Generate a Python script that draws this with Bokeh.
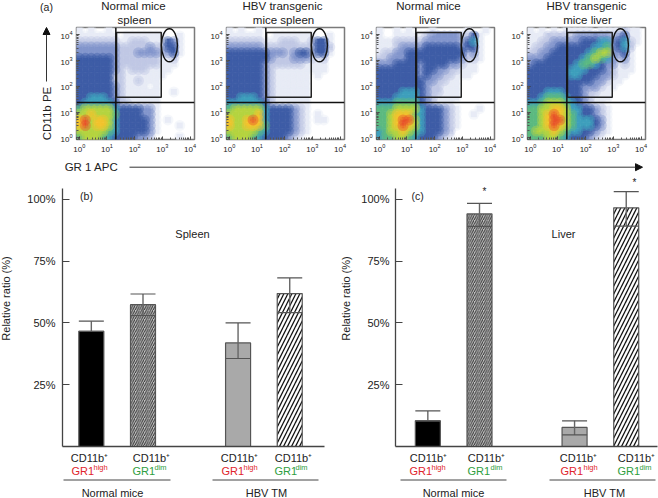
from bokeh.plotting import figure
from bokeh.layouts import column, row
from bokeh.models import Label, Span, Arrow, NormalHead, FixedTicker, Range1d, ColumnDataSource
from bokeh.embed import file_html
from bokeh.resources import INLINE

# ---- data: density grades (top row first, 0 = empty ... 9 = densest)
normal_spleen = [
"10100100000000000000","11111110111111100100","22222221122211143100","33333332222232244100",
"33333332223333234100","44444432222222112000","44444432222222111000","44444432122211110000",
"44444422111111100000","44444422112111000000","44444432111101000000","44444432111111001000",
"44555432111111000000","45555542211111000000","67777754444331000000","77877764444331000000",
"89788754444431010000","89788754444431000100","77777654444431000000","67776544443320000100"]
hbv_spleen = [
"10100100000000000000","11111100111111100100","22222211122211244100","33333322222222244200",
"44444443332344244100","44444443222333212000","44444432222221111000","44444432111111111000",
"44444432111111010000","44444432111111000000","44444432111111000000","44444432111111000000",
"44555432111111000000","55555542111111000000","67777754444321000000","77777854444321010000",
"87789854444321011000","87788864444321000000","77777654444321000000","67776544443210000000"]
normal_liver = [
"10010100010000010010","10011111233333224100","11122222333333245100","11123333444444344100",
"12233444444444423100","22333444444444322100","33344443444433211000","44444443443322111000",
"44444443433221110000","44444444332211000000","44444444322111000000","44445554322111000000",
"44455554321111000000","55566664321110000000","66677775444321000100","66788865444321001000",
"66789975444321000000","66789875444321000000","56778765444320000000","56677654443210000000"]
hbv_liver = [
"10101011111011112110","11122222333333234110","11223333344455345210","12233444444556345200",
"22334444445677334100","33344444456765323100","34444444566543312100","44444445554443211100",
"44444445544433211000","44444444444332110000","44444444433321100000","44455544432211000000",
"44566654432111000000","55677765432110000000","66778875544321000000","66789876544321000000",
"66789976555431000000","66789876555431000000","67778765544321000000","66677654443210000000"]
density_colors = ["#ffffff","#e8ebf6","#c0c9e5","#8496cc","#3f5da6","#3f9fbd","#5cba80","#b6d440","#f2c32e","#e8532a"]

panel_titles = [("Normal mice","spleen"),("HBV transgenic","mice spleen"),("Normal mice","liver"),("HBV transgenic","mice liver")]

# gates, in decades
gate_x, gate_y = 1.32, 1.373
rect_x0, rect_x1, rect_y0, rect_y1 = 1.345, 2.96, 1.58, 4.085
ell_x, ell_y = 3.255, 3.59

bar_x = [1.0, 2.0, 3.84, 4.84]
spleen_mean = [46.6, 57.4, 41.9, 61.9]
spleen_upper = [50.7, 61.7, 50.0, 68.2]
spleen_lower = [46.6, 53.0, 35.6, 54.2]
liver_mean = [10.4, 94.1, 7.7, 96.6]
liver_upper = [14.4, 98.4, 10.4, 103.1]
liver_lower = [10.4, 89.1, 4.7, 89.2]
y_ticks = [25, 50, 75, 100]
y_tick_labels = {25: "25%", 50: "50%", 75: "75%", 100: "100%"}

FONT = "Liberation Sans"
INK = "#222222"

# a transparent sheet over the whole page carries the lettering and the rules between the panels
sheet = figure(width=658, height=498, x_range=Range1d(0, 658), y_range=Range1d(498, 0),
               x_axis_location=None, y_axis_location=None, output_backend="svg", toolbar_location=None,
               min_border=0, outline_line_color=None, background_fill_color=None, border_fill_color=None,
               styles={"position": "absolute", "left": "0", "top": "0", "pointer-events": "none"})
sheet.grid.visible = False


def text(s, px, py, size=11, color=INK, align="center", angle=0):
    sheet.add_layout(Label(x=px, y=py, text=s, text_font=FONT, text_font_size=f"{size}px",
                           text_color=color, text_align=align, text_baseline="middle", angle=angle,
                           angle_units="deg"))


def rule(x0, y0, x1, y1, color="#333333", width=1.0, head=False):
    end = NormalHead(size=7, fill_color="#111111", line_color="#111111") if head else None
    sheet.add_layout(Arrow(x_start=x0, y_start=y0, x_end=x1, y_end=y1,
                           line_color=color, line_width=width, end=end))


XR = (-0.1, 4.16)
YR = (-0.06, 4.28)
ROW1_TOP, ROW1_BOTTOM, ROW1_H = 27, 139, 175


def dot_panel(grid, x0, x1, l, r):
    p = figure(width=x1 - x0, height=ROW1_H, x_axis_type="log", y_axis_type="log",
               x_range=Range1d(10 ** XR[0], 10 ** XR[1]), y_range=Range1d(10 ** YR[0], 10 ** YR[1]),
               output_backend="svg", toolbar_location=None, min_border_left=l - x0, min_border_right=x1 - r,
               min_border_top=ROW1_TOP, min_border_bottom=ROW1_H - ROW1_BOTTOM, background_fill_color="white")
    p.grid.visible = False
    p.outline_line_color = "#7a7a7a"
    p.outline_line_width = 1.5
    dx = (XR[1] - XR[0]) / 20
    dy = (YR[1] - YR[0]) / 20
    cells = []
    for ri, line in enumerate(grid):
        for ci, ch in enumerate(line):
            if ch != "0":
                cells.append((int(ch), ci, ri))
    cells.sort(key=lambda c: c[0])
    colors = [density_colors[c[0]] for c in cells]
    # solid cells first, then a translucent disc on each so that neighbouring grades run together
    p.quad(left=[10 ** (XR[0] + c[1] * dx) for c in cells], right=[10 ** (XR[0] + (c[1] + 1) * dx) for c in cells],
           top=[10 ** (YR[1] - c[2] * dy) for c in cells], bottom=[10 ** (YR[1] - (c[2] + 1) * dy) for c in cells],
           fill_color=colors, line_color=colors, line_width=0.3)
    p.scatter(x=[10 ** (XR[0] + (c[1] + 0.5) * dx) for c in cells], y=[10 ** (YR[1] - (c[2] + 0.5) * dy) for c in cells],
              marker="circle", size=11, fill_color=colors, fill_alpha=0.42, line_color=None)
    for ax in (p.xaxis[0], p.yaxis[0]):
        ax.axis_line_color = None
        ax.major_tick_line_color = "#333333"
        ax.minor_tick_line_color = "#555555"
        ax.major_tick_in = 3
        ax.major_tick_out = 0
        ax.minor_tick_in = 2
        ax.minor_tick_out = 0
        ax.major_label_text_font = FONT
        ax.major_label_text_font_size = "8px"
        ax.major_label_text_color = INK
        ax.major_label_standoff = 4
    p.add_layout(Span(location=10 ** gate_x, dimension="height", line_color="#111111", line_width=1.5))
    p.add_layout(Span(location=10 ** gate_y, dimension="width", line_color="#111111", line_width=1.5))
    p.quad(left=[10 ** rect_x0], right=[10 ** rect_x1], top=[10 ** rect_y1], bottom=[10 ** rect_y0],
           fill_color=None, line_color="#222222", line_width=1.5)
    p.ellipse(x=[10 ** ell_x], y=[10 ** ell_y], width=16, height=33, width_units="screen", height_units="screen",
              fill_color=None, line_color="#111111", line_width=1.4)
    return p


row1 = [dot_panel(normal_spleen, 0, 205, 76, 194), dot_panel(hbv_spleen, 205, 355, 226, 344),
        dot_panel(normal_liver, 355, 507, 376, 494), dot_panel(hbv_liver, 507, 658, 527, 645)]
for cx, (t1, t2) in zip([133, 282, 428, 586], panel_titles):
    text(t1, cx, 5.5, 11.5)
    text(t2, cx + 1, 19, 11.5)
text("(a)", 46, 6, 10.5)
text("CD11b PE", 46, 113, 11.5, angle=90)
rule(46, 81, 46, 27, head=True)
text("GR 1 APC", 91, 166.7, 11.5)
rule(129, 166.7, 642, 166.7, head=True)


def make_bars(mean, upper, lower, x0, x1, l, r, bar0_px, label, label_x, place, place_x, ylab_x,
              cd_x, gr_x, sup_x, lines, groups, stars, standoff):
    H, Y0, T, B = 323, 175, 188, 446
    unit = 155 / 3
    xr = (1 - (bar0_px - l) / unit, 1 + (r - bar0_px) / unit)
    p = figure(width=x1 - x0, height=H, x_range=Range1d(*xr), y_range=Range1d(0, 104.4),
               output_backend="svg", toolbar_location=None, min_border_left=l - x0, min_border_right=x1 - r,
               min_border_top=T - Y0, min_border_bottom=Y0 + H - B)
    p.grid.visible = False
    p.outline_line_color = None
    xa = p.xaxis[0]
    xa.ticker = FixedTicker(ticks=[])
    xa.major_label_text_font_size = "0px"
    xa.axis_line_color = "#444444"
    xa.axis_line_width = 1.3
    ya = p.yaxis[0]
    ya.ticker = FixedTicker(ticks=y_ticks)
    ya.major_label_overrides = y_tick_labels
    ya.major_tick_in = 7
    ya.major_tick_out = 0
    ya.minor_tick_line_color = None
    ya.axis_line_color = "#444444"
    ya.axis_line_width = 1.3
    ya.major_tick_line_color = "#444444"
    ya.major_label_text_font = FONT
    ya.major_label_text_font_size = "11px"
    ya.major_label_text_color = INK
    ya.major_label_standoff = standoff
    bw = 0.484
    styles = [dict(fill_color="#000000"),
              dict(fill_color="#c4c4c4", hatch_pattern="right_diagonal_line", hatch_color="#333333", hatch_scale=4.5, hatch_weight=1),
              dict(fill_color="#a9a9a9"),
              dict(fill_color="#ffffff", hatch_pattern="right_diagonal_line", hatch_color="#111111", hatch_scale=8, hatch_weight=1.3)]
    for xv, mv, st in zip(bar_x, mean, styles):
        p.vbar(x=[xv], top=[mv], bottom=[0], width=bw, line_color="#555555", line_width=1.2, **st)
    p.segment(x0=bar_x, x1=bar_x, y0=lower, y1=upper, line_color="#666666", line_width=1.4)
    p.segment(x0=[v - bw / 2 for v in bar_x], x1=[v + bw / 2 for v in bar_x], y0=upper, y1=upper,
              line_color="#555555", line_width=1.2)
    p.segment(x0=[v - bw / 2 for v in bar_x], x1=[v + bw / 2 for v in bar_x], y0=lower, y1=lower,
              line_color="#555555", line_width=1.2)
    text(label, label_x, 195, 10.5)
    text(place, place_x, 233, 11)
    text("Relative ratio (%)", ylab_x, 298, 11, angle=90)
    sup_words = ["high", "dim", "high", "dim"]
    cols = ["#e0242c", "#2e9e40", "#e0242c", "#2e9e40"]
    for cx, gx, sx, word, col in zip(cd_x, gr_x, sup_x, sup_words, cols):
        text("CD11b\u207a", cx, 457, 11)
        text("GR1", gx, 470.5, 11, color=col, align="left")
        text(word, sx, 467, 7.5, color=col, align="left")
    for a, b_ in lines:
        rule(a, 479.5, b_, 479.5, color="#444444", width=1.0)
    for name, gx in groups:
        text(name, gx, 492, 11)
    for sx, sy in stars:
        text("*", sx, sy, 10)
    return p


pb = make_bars(spleen_mean, spleen_upper, spleen_lower, 0, 330, 62, 324, 272.5 / 3, "(b)", 86, "Spleen", 192, 5,
               [89, 151, 239, 293], [71, 132, 221, 274], [93, 154, 243, 295],
               [(63, 170), (212, 318)], [("Normal mice", 112), ("HBV TM", 266)], [], 7)
pc = make_bars(liver_mean, liver_upper, liver_lower, 330, 658, 395, 657, 330 + 292 / 3, "(c)", 417, "Liver", 563, 345,
               [428, 486, 578, 636], [409, 467, 560, 617], [431, 490, 583, 639],
               [(400, 506), (549, 655)], [("Normal mice", 453), ("HBV TM", 604)],
               [(484, 191), (634, 182)], 6)

page = column(row(*row1, spacing=0), row(pb, pc, spacing=0), spacing=0,
              styles={"position": "absolute", "left": "0", "top": "0"})
open("out.html", "w").write(file_html([page, sheet], INLINE))
